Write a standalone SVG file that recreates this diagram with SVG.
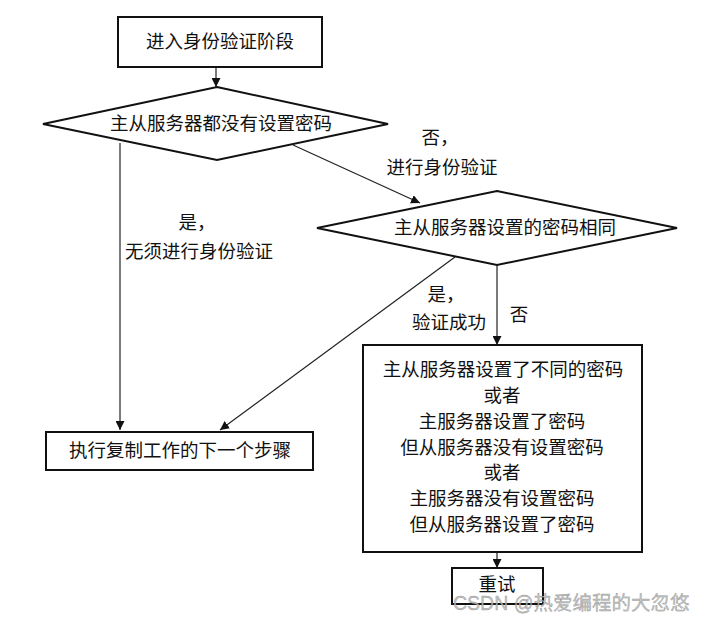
<svg xmlns="http://www.w3.org/2000/svg" width="701" height="623" viewBox="0 0 701 623">
<style>
.s{fill:#fff;stroke:#111;stroke-width:2}
.t{font-family:"Liberation Serif","Noto Sans CJK SC",serif;font-size:18.5px;fill:#111;text-anchor:middle;dominant-baseline:central}
.c{fill:none;stroke:#222;stroke-width:1.2}
.wm{font-family:"Liberation Sans","Noto Sans CJK SC",sans-serif;font-size:19.5px;fill:#bbb;fill-opacity:0.85;stroke:#666;stroke-width:0.4;stroke-opacity:0.6}
</style>
<defs>
<marker id="a" viewBox="0 0 10 10" refX="10" refY="5" markerWidth="9" markerHeight="9" markerUnits="userSpaceOnUse" orient="auto">
<path d="M0,0 L10,5 L0,10 z" fill="#111"/>
</marker>
</defs>
<rect width="701" height="623" fill="#fff"/>
<g id="connectors">
<line class="c" x1="216" y1="67" x2="216" y2="87" marker-end="url(#a)"/>
<line class="c" x1="120" y1="143" x2="120" y2="430" marker-end="url(#a)"/>
<line class="c" x1="293" y1="145" x2="420" y2="203" marker-end="url(#a)"/>
<line class="c" x1="455" y1="257" x2="220" y2="430" marker-end="url(#a)"/>
<line class="c" x1="497" y1="265" x2="497" y2="345" marker-end="url(#a)"/>
<line class="c" x1="497" y1="552" x2="497" y2="568" marker-end="url(#a)"/>
<text class="t" x="197" y="223">是，</text>
<text class="t" x="199" y="252">无须进行身份验证</text>
<text class="t" x="440" y="138">否，</text>
<text class="t" x="442" y="168">进行身份验证</text>
<text class="t" x="446" y="295">是，</text>
<text class="t" x="449" y="323">验证成功</text>
<text class="t" x="519" y="315">否</text>
</g>
<g id="start">
<rect class="s" x="118" y="17" width="204" height="50"/>
<text class="t" x="220" y="42">进入身份验证阶段</text>
</g>
<g id="d1">
<polygon class="s" points="217,87 388,124 217,160 43,124"/>
<text class="t" x="221" y="124">主从服务器都没有设置密码</text>
</g>
<g id="d2">
<polygon class="s" points="497,191 677,228 497,265 317,228"/>
<text class="t" x="505" y="228">主从服务器设置的密码相同</text>
</g>
<g id="next">
<rect class="s" x="46" y="432" width="267" height="38"/>
<text class="t" x="180" y="451">执行复制工作的下一个步骤</text>
</g>
<g id="fail">
<rect class="s" x="363" y="345" width="279" height="207"/>
<text class="t" x="503" y="370">主从服务器设置了不同的密码</text>
<text class="t" x="502" y="396">或者</text>
<text class="t" x="502" y="422">主服务器设置了密码</text>
<text class="t" x="502" y="448">但从服务器没有设置密码</text>
<text class="t" x="502" y="473">或者</text>
<text class="t" x="502" y="499">主服务器没有设置密码</text>
<text class="t" x="502" y="525">但从服务器设置了密码</text>
</g>
<g id="retry">
<rect class="s" x="452" y="568" width="91" height="36"/>
<text class="t" x="497" y="585">重试</text>
</g>
<text class="wm" x="453" y="610">CSDN @热爱编程的大忽悠</text>
</svg>
